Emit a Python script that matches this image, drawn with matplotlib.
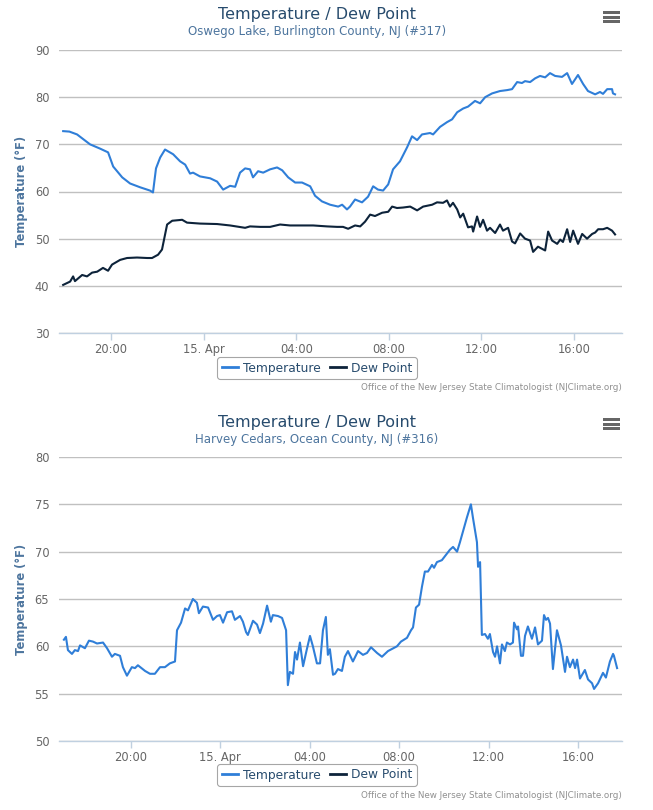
import matplotlib
matplotlib.use("Agg")
import matplotlib.pyplot as plt
from matplotlib.patches import Rectangle

# ---------------- data (hours since 14 Apr 00:00) ----------------
top_temp_t = [17.93, 18.20, 18.53, 19.09, 19.52, 19.87, 20.09, 20.48, 20.82, 21.25, 21.68, 21.81,
              21.94, 22.12, 22.33, 22.68, 22.98, 23.20, 23.41, 23.54, 23.84, 24.28, 24.58, 24.84,
              25.14, 25.36, 25.57, 25.79, 26.00, 26.13, 26.35, 26.57, 26.87, 27.17, 27.39, 27.65,
              27.95, 28.25, 28.60, 28.81, 29.11, 29.46, 29.81, 29.98, 30.19, 30.32, 30.54, 30.84,
              31.10, 31.32, 31.53, 31.75, 31.97, 32.18, 32.48, 32.79, 33.00, 33.22, 33.43, 33.78,
              33.91, 34.21, 34.51, 34.73, 34.95, 35.21, 35.42, 35.72, 35.94, 36.16, 36.46, 36.80,
              37.11, 37.32, 37.54, 37.75, 37.88, 38.10, 38.32, 38.53, 38.75, 38.96, 39.18, 39.48,
              39.70, 39.91, 40.17, 40.39, 40.60, 40.91, 41.12, 41.25, 41.43, 41.64, 41.68, 41.77]
top_temp_v = [72.8, 72.7, 72.1, 70.0, 69.1, 68.3, 65.3, 63.0, 61.7, 60.9, 60.2, 59.8,
              64.9, 67.2, 68.9, 67.9, 66.4, 65.7, 63.8, 64.0, 63.2, 62.8, 62.1, 60.4,
              61.2, 61.0, 64.0, 64.9, 64.7, 63.0, 64.3, 64.0, 64.7, 65.1, 64.5, 63.0,
              61.9, 61.9, 61.1, 59.1, 57.9, 57.2, 56.8, 57.2, 56.2, 56.8, 58.3, 57.7,
              58.9, 61.1, 60.4, 60.2, 61.5, 64.7, 66.4, 69.4, 71.7, 70.9, 72.1, 72.4,
              72.1, 73.7, 74.7, 75.3, 76.8, 77.6, 78.0, 79.2, 78.7, 80.0, 80.8, 81.3,
              81.5, 81.7, 83.2, 83.0, 83.4, 83.2, 84.0, 84.5, 84.2, 85.1, 84.5, 84.3,
              85.1, 82.8, 84.7, 82.8, 81.3, 80.6, 81.1, 80.7, 81.7, 81.7, 80.8, 80.6]

top_dew_t = [17.93, 18.23, 18.36, 18.44, 18.75, 18.96, 19.18, 19.40, 19.65, 19.87, 20.04, 20.39,
             20.69, 21.12, 21.56, 21.77, 22.03, 22.20, 22.42, 22.64, 23.07, 23.28, 23.84, 24.58,
             25.14, 25.79, 26.00, 26.44, 26.87, 27.30, 27.73, 28.73, 29.33, 29.76, 30.02, 30.24,
             30.54, 30.76, 30.97, 31.19, 31.40, 31.71, 31.97, 32.14, 32.35, 32.61, 32.92, 33.22,
             33.48, 33.87, 34.08, 34.34, 34.51, 34.64, 34.77, 34.95, 35.08, 35.21, 35.42, 35.59,
             35.64, 35.81, 35.94, 36.07, 36.24, 36.37, 36.59, 36.80, 36.93, 37.15, 37.32, 37.45,
             37.67, 37.88, 38.10, 38.23, 38.44, 38.75, 38.88, 39.05, 39.27, 39.40, 39.52, 39.70,
             39.83, 39.96, 40.17, 40.35, 40.56, 40.78, 40.91, 41.04, 41.25, 41.43, 41.64, 41.77]
top_dew_v = [40.2, 40.9, 42.0, 41.0, 42.3, 42.0, 42.8, 43.0, 43.8, 43.2, 44.5, 45.5,
             45.9, 46.0, 45.9, 45.9, 46.6, 47.7, 53.0, 53.8, 54.0, 53.4, 53.2, 53.1,
             52.8, 52.3, 52.6, 52.5, 52.5, 53.0, 52.8, 52.8, 52.6, 52.5, 52.5, 52.1,
             52.8, 52.6, 53.6, 55.1, 54.8, 55.5, 55.7, 56.8, 56.5, 56.6, 56.8, 56.0,
             56.8, 57.2, 57.7, 57.6, 58.1, 56.8, 57.6, 56.2, 54.5, 55.3, 52.4, 52.6,
             51.5, 54.7, 52.5, 54.0, 51.7, 52.3, 51.2, 53.0, 51.7, 52.3, 49.4, 49.0,
             51.1, 50.0, 49.6, 47.2, 48.3, 47.5, 51.5, 49.6, 48.9, 49.8, 49.3, 52.0,
             49.3, 51.7, 48.9, 51.0, 50.0, 51.0, 51.3, 52.0, 52.0, 52.3, 51.7, 50.9]

bot_temp_t = [17.00, 17.09, 17.18, 17.36, 17.49, 17.63, 17.72, 17.94, 18.12, 18.30, 18.48, 18.75,
              18.93, 19.15, 19.28, 19.51, 19.64, 19.82, 20.04, 20.18, 20.31, 20.63, 20.85, 21.07,
              21.30, 21.52, 21.74, 21.97, 22.06, 22.24, 22.42, 22.55, 22.77, 22.95, 23.04, 23.22,
              23.45, 23.67, 23.85, 23.98, 24.12, 24.30, 24.52, 24.65, 24.88, 25.01, 25.15, 25.23,
              25.46, 25.64, 25.77, 25.91, 26.09, 26.26, 26.35, 26.58, 26.76, 26.94, 27.02, 27.11,
              27.25, 27.34, 27.43, 27.56, 27.70, 27.87, 28.01, 28.14, 28.32, 28.46, 28.59, 28.72,
              28.81, 28.90, 29.04, 29.13, 29.26, 29.44, 29.57, 29.71, 29.93, 30.16, 30.38, 30.56,
              30.74, 31.01, 31.23, 31.50, 31.90, 32.08, 32.35, 32.53, 32.62, 32.75, 32.89, 33.02,
              33.15, 33.29, 33.47, 33.56, 33.69, 33.91, 34.14, 34.27, 34.41, 34.59, 34.72, 34.85,
              35.03, 35.08, 35.21, 35.30, 35.48, 35.53, 35.62, 35.70, 35.84, 35.97, 36.06, 36.20,
              36.29, 36.38, 36.51, 36.60, 36.73, 36.82, 36.96, 37.09, 37.14, 37.27, 37.32, 37.45,
              37.54, 37.63, 37.76, 37.94, 38.08, 38.21, 38.39, 38.48, 38.57, 38.66, 38.75, 38.88,
              39.06, 39.24, 39.42, 39.51, 39.64, 39.78, 39.87, 39.96, 40.09, 40.31, 40.45, 40.63,
              40.72, 40.90, 41.12, 41.25, 41.43, 41.57, 41.61, 41.75]
bot_temp_v = [60.7, 61.0, 59.6, 59.2, 59.6, 59.5, 60.1, 59.8, 60.6, 60.5, 60.3, 60.4,
              59.8, 58.9, 59.2, 59.0, 57.8, 56.9, 57.8, 57.7, 58.0, 57.4, 57.1, 57.1,
              57.8, 57.8, 58.2, 58.4, 61.7, 62.5, 64.0, 63.8, 65.0, 64.6, 63.5, 64.2,
              64.1, 62.8, 63.2, 63.3, 62.5, 63.6, 63.7, 62.8, 63.2, 62.6, 61.5, 61.2,
              62.7, 62.3, 61.4, 62.4, 64.3, 62.6, 63.3, 63.2, 63.0, 61.7, 55.9, 57.3,
              57.1, 59.4, 58.6, 60.4, 57.9, 59.7, 61.1, 60.0, 58.2, 58.2, 61.7, 63.1,
              59.1, 59.7, 57.0, 57.1, 57.6, 57.4, 58.9, 59.5, 58.4, 59.5, 59.1, 59.3,
              59.9, 59.3, 58.9, 59.5, 60.0, 60.5, 60.9, 61.7, 62.0, 64.1, 64.4, 66.3,
              67.9, 67.9, 68.6, 68.3, 68.9, 69.1, 69.8, 70.2, 70.5, 70.0, 71.0, 72.1,
              73.6, 74.0, 75.0, 73.6, 71.0, 68.4, 68.9, 61.2, 61.3, 60.8, 61.3, 59.4,
              58.9, 60.0, 58.2, 60.2, 59.5, 60.4, 60.2, 60.4, 62.5, 61.8, 62.1, 59.0,
              59.0, 61.1, 62.1, 60.8, 62.0, 60.2, 60.6, 63.3, 62.8, 63.0, 62.4, 57.6,
              61.7, 60.1, 57.3, 58.9, 57.8, 58.6, 57.7, 58.6, 56.6, 57.5, 56.5, 56.1,
              55.5, 56.1, 57.2, 56.7, 58.4, 59.2, 59.0, 57.7]
bot_dew_t = []
bot_dew_v = []

tick_hours = [20, 24, 28, 32, 36, 40]
tick_labels = ["20:00", "15. Apr", "04:00", "08:00", "12:00", "16:00"]
title = "Temperature / Dew Point"
subtitle_top = "Oswego Lake, Burlington County, NJ (#317)"
subtitle_bot = "Harvey Cedars, Ocean County, NJ (#316)"
credits = "Office of the New Jersey State Climatologist (NJClimate.org)"
series_names = ["Temperature", "Dew Point"]

# ---------------- style ----------------
TEMP_C = "#2f7ed8"
DEW_C = "#0d233a"
TITLE_C = "#274b6d"
SUB_C = "#4d759e"
GRID_C = "#c0c0c0"
AXIS_C = "#c0d0e0"
LABEL_C = "#666666"
FONT = "DejaVu Sans"
plt.rcParams["font.family"] = [FONT]

W, H = 653, 810
fig = plt.figure(figsize=(W / 100, H / 100), dpi=100)


def px(x, y):
    return x / W, 1 - y / H


def make_panel(top_px, bot_px, xlim, ylim, yticks, temp_t, temp_v, dew_t, dew_v,
               subtitle, title_y, legend_y, credit_y):
    left, right = 59, 622
    ax = fig.add_axes([left / W, 1 - bot_px / H, (right - left) / W, (bot_px - top_px) / H])
    ax.plot(temp_t, temp_v, color=TEMP_C, lw=1.5, label=series_names[0], solid_joinstyle="round")
    ax.plot(dew_t, dew_v, color=DEW_C, lw=1.5, label=series_names[1], solid_joinstyle="round")
    ax.set_xlim(*xlim)
    ax.set_ylim(*ylim)
    ax.set_yticks(yticks)
    ax.set_yticklabels([str(v) for v in yticks])
    ax.grid(axis="y", color=GRID_C, lw=1.0)
    ax.set_axisbelow(True)
    for s in ["top", "left", "right"]:
        ax.spines[s].set_visible(False)
    ax.spines["bottom"].set_color(AXIS_C)
    ax.spines["bottom"].set_linewidth(1.0)
    ax.set_xticks(tick_hours)
    ax.set_xticklabels(tick_labels)
    ax.tick_params(axis="x", colors=AXIS_C, length=5, width=1, labelcolor=LABEL_C,
                   labelsize=8.3, pad=2)
    ax.tick_params(axis="y", length=0, labelcolor=LABEL_C, labelsize=8.3, pad=7)
    ax.set_ylabel("Temperature (°F)", color=SUB_C, fontsize=8.3, fontweight="bold")
    ax.yaxis.set_label_coords(-(left - 28) / (right - left), 0.5)

    fig.text(*px(317, title_y), title, ha="center", va="center", color=TITLE_C, fontsize=11.5)
    fig.text(*px(317, title_y + 17), subtitle, ha="center", va="center", color=SUB_C, fontsize=8.5)

    leg = ax.legend(loc="center", bbox_to_anchor=px(317, legend_y), bbox_transform=fig.transFigure,
                    ncol=2, frameon=True, fancybox=True, fontsize=8.8, handlelength=1.3,
                    handletextpad=0.4, columnspacing=0.8, borderpad=0.35)
    leg.get_frame().set_edgecolor("#909090")
    leg.get_frame().set_linewidth(0.8)
    for t in leg.get_texts():
        t.set_color(TITLE_C)
    for ln in leg.get_lines():
        ln.set_linewidth(2.0)

    fig.text(*px(622, credit_y), credits, ha="right", va="center", color="#909090", fontsize=6.3)

    # menu icon
    for dy in (0, 4.5, 9):
        x0, y0 = px(603, title_y - 2.5 + dy + 1.5)
        fig.add_artist(Rectangle((x0, y0), 16.5 / W, 3.0 / H, transform=fig.transFigure,
                                 color="#666666", lw=0))
    return ax


make_panel(50, 333, (17.75, 42.07), (30, 90), [30, 40, 50, 60, 70, 80, 90],
           top_temp_t, top_temp_v, top_dew_t, top_dew_v, subtitle_top,
           title_y=15, legend_y=368, credit_y=388)
make_panel(457, 741, (16.78, 41.97), (50, 80), [50, 55, 60, 65, 70, 75, 80],
           bot_temp_t, bot_temp_v, bot_dew_t, bot_dew_v, subtitle_bot,
           title_y=422, legend_y=775, credit_y=796)

fig.savefig("out.png", dpi=100, facecolor="white")
